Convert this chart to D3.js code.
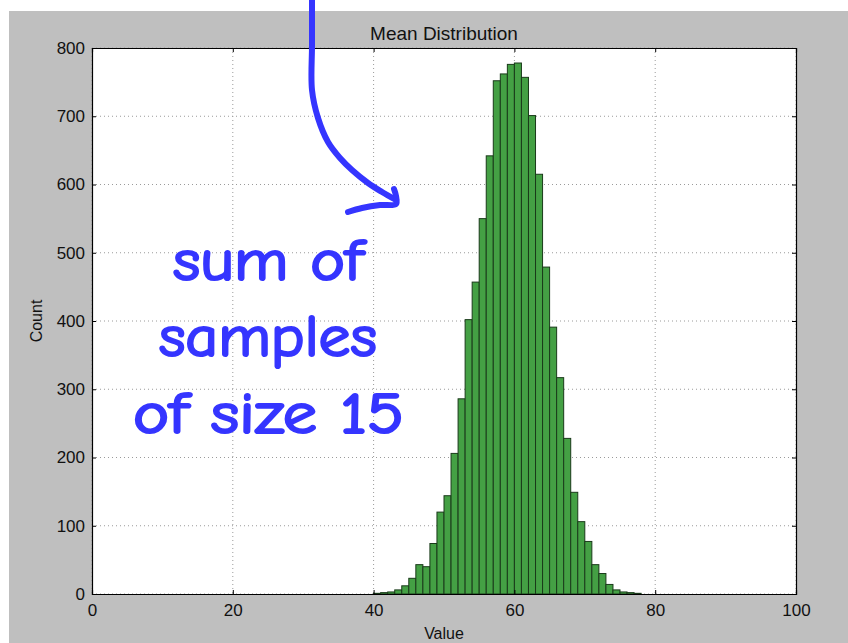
<!DOCTYPE html>
<html>
<head>
<meta charset="utf-8">
<script src="https://cdn.jsdelivr.net/npm/d3@7"></script>
<style>
  html, body { margin: 0; padding: 0; background: #ffffff; }
  svg { display: block; }
</style>
</head>
<body>
<svg id="chart" width="848" height="643"></svg>
<script>
// ---- data ----
const binStarts = [40,41,42,43,44,45,46,47,48,49,50,51,52,53,54,55,56,57,58,59,60,61,62,63,64,65,66,67,68,69,70,71,72,73,74,75,76,77];
const counts    = [1,2,3,6,12,23,43,40,74,120,144,206,286,402,457,550,642,752,762,776,778,757,701,615,479,391,317,228,149,106,77,43,30,14,6,3,2,1];
const binWidth = 1;
const xTicks = [0,20,40,60,80,100];
const yTicks = [0,100,200,300,400,500,600,700,800];
const titleText = "Mean Distribution";
const xLabel = "Value";
const yLabel = "Count";
const noteLines = ["sum of", "samples", "of size 15"];

// ---- layout ----
const svg = d3.select("#chart");
const plot = {left: 92, right: 796, top: 48, bottom: 594};
const x = d3.scaleLinear().domain([0,100]).range([plot.left, plot.right]);
const y = d3.scaleLinear().domain([0,800]).range([plot.bottom, plot.top]);

// figure background
svg.append("rect").attr("x",9).attr("y",11).attr("width",848-9).attr("height",643-11).attr("fill","#bfbfbf");
// plot area
svg.append("rect").attr("x",plot.left).attr("y",plot.top)
  .attr("width",plot.right-plot.left).attr("height",plot.bottom-plot.top).attr("fill","#ffffff");

// grid
const grid = svg.append("g").attr("stroke","#9a9a9a").attr("stroke-width",1).attr("stroke-dasharray","1,3");
xTicks.forEach(t => grid.append("line").attr("x1",x(t)).attr("x2",x(t)).attr("y1",plot.top).attr("y2",plot.bottom));
yTicks.forEach(t => grid.append("line").attr("x1",plot.left).attr("x2",plot.right).attr("y1",y(t)).attr("y2",y(t)));

// bars
svg.append("g").selectAll("rect").data(binStarts).join("rect")
  .attr("x", d => x(d))
  .attr("width", d => x(d + binWidth) - x(d))
  .attr("y", (d,i) => y(counts[i]))
  .attr("height", (d,i) => y(0) - y(counts[i]))
  .attr("fill", "#44a044")
  .attr("stroke", "#1a3a1a")
  .attr("stroke-width", 1);

// axes (ticks inward on all sides, labels bottom/left)
const fontFam = "'Liberation Sans', Arial, Helvetica, sans-serif";
const axB = svg.append("g").attr("transform",`translate(0,${plot.bottom})`)
  .call(d3.axisBottom(x).tickValues(xTicks).tickSize(-4).tickPadding(10).tickFormat(d3.format("d")));
const axL = svg.append("g").attr("transform",`translate(${plot.left},0)`)
  .call(d3.axisLeft(y).tickValues(yTicks).tickSize(-4).tickPadding(7).tickFormat(d3.format("d")));
const axT = svg.append("g").attr("transform",`translate(0,${plot.top})`)
  .call(d3.axisTop(x).tickValues(xTicks).tickSize(-4).tickFormat(""));
const axR = svg.append("g").attr("transform",`translate(${plot.right},0)`)
  .call(d3.axisRight(y).tickValues(yTicks).tickSize(-4).tickFormat(""));
[axB, axL, axT, axR].forEach(a => {
  a.select(".domain").attr("stroke","#000").attr("stroke-width",1.2);
  a.selectAll(".tick line").attr("stroke","#000");
  a.selectAll("text").attr("font-family",fontFam).attr("font-size",17).attr("fill","#111");
});

// titles
svg.append("text").attr("x",(plot.left+plot.right)/2).attr("y",40).attr("text-anchor","middle")
  .attr("font-family",fontFam).attr("font-size",19).attr("fill","#111").text(titleText);
svg.append("text").attr("x",(plot.left+plot.right)/2).attr("y",639).attr("text-anchor","middle")
  .attr("font-family",fontFam).attr("font-size",16).attr("fill","#111").text(xLabel);
svg.append("text").attr("transform",`translate(42,${(plot.top+plot.bottom)/2}) rotate(-90)`).attr("text-anchor","middle")
  .attr("font-family",fontFam).attr("font-size",16).attr("fill","#111").text(yLabel);

// hand-drawn annotation
const blue = "#3535ff";
const note = svg.append("g");
const notePos = [
  {x0:173, x1:363, yb:280},
  {x0:159, x1:377, yb:356},
  {x0:133, x1:404, yb:433}
];
noteLines.forEach((s,i) => {
  const p = notePos[i];
  note.append("text").attr("x",p.x0).attr("y",p.yb)
    .attr("font-family","'Comic Sans MS','Comic Neue','DejaVu Sans',sans-serif")
    .attr("font-size",58).attr("font-weight","normal").attr("fill",blue)
    .attr("stroke",blue).attr("stroke-width",2.2).attr("stroke-linejoin","round")
    .attr("textLength",p.x1-p.x0).attr("lengthAdjust","spacingAndGlyphs")
    .text(s);
});
const line = d3.line().curve(d3.curveCatmullRom.alpha(0.5));
note.append("path")
  .attr("d", line([[312,0],[312,45],[312,90],[318,118],[328,142],[340,158],[352,170],[368,183],[382,192],[396,200]]))
  .attr("fill","none").attr("stroke",blue).attr("stroke-width",6).attr("stroke-linecap","round").attr("stroke-linejoin","round");
note.append("path")
  .attr("d", line([[348,212],[362,208],[380,205],[396,204],[396,196],[394,189]]))
  .attr("fill","none").attr("stroke",blue).attr("stroke-width",6).attr("stroke-linecap","round").attr("stroke-linejoin","round");
</script>
</body>
</html>
